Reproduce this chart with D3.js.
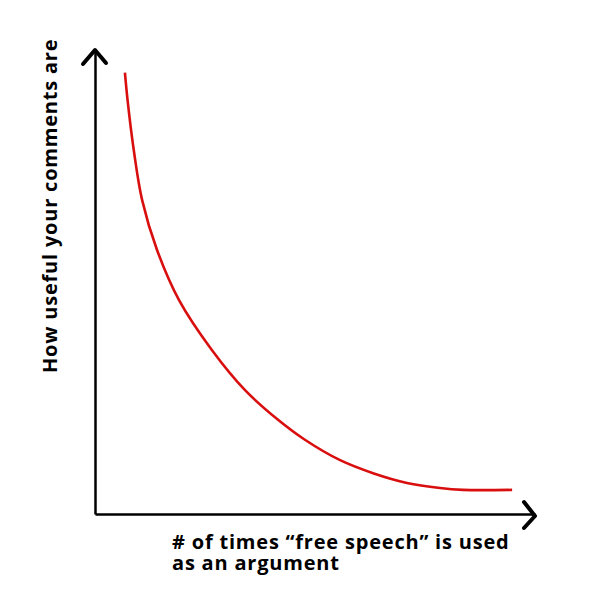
<!DOCTYPE html>
<html>
<head>
<meta charset="utf-8">
<script src="https://cdn.jsdelivr.net/npm/d3@7"></script>
<style>
  body { margin: 0; background: #fff; }
  svg { display: block; }
  .axis path.domain { stroke: #000; stroke-width: 2.5; }
  .lbl { font-family: 'Open Sans', Lato, sans-serif; font-weight: 700; fill: #000; letter-spacing: 0.8px; }
</style>
</head>
<body>
<div id="chart"></div>
<script>
// curve (arbitrary 0-10 units)
const timesUsed = [0.68, 0.74, 0.88, 1.07, 1.41, 1.91, 2.66, 3.41, 4.16, 4.77, 5.57, 6.32, 7.09, 7.84, 8.36, 9.48];
const usefulness = [9.51, 8.92, 7.85, 6.77, 5.69, 4.61, 3.53, 2.67, 2.03, 1.6, 1.16, 0.88, 0.67, 0.56, 0.52, 0.52];
const xLabel = ['# of times \u201cfree speech\u201d is used', 'as an argument'];
const yLabel = 'How useful your comments are';

const width = 600;
const height = 600;

const x = d3.scaleLinear().domain([0, 10]).range([95, 535]);
const y = d3.scaleLinear().domain([0, 10]).range([514, 50]);

const svg = d3.select('#chart')
  .append('svg')
  .attr('width', width)
  .attr('height', height);

svg.append('g')
  .attr('class', 'axis x')
  .attr('transform', `translate(0,${y(0)})`)
  .call(d3.axisBottom(x).tickValues([]).tickSizeOuter(0));

svg.append('g')
  .attr('class', 'axis y')
  .attr('transform', `translate(${x(0)},0)`)
  .call(d3.axisLeft(y).tickValues([]).tickSizeOuter(0));

// arrow heads
const [x0, x1] = x.range();
const yTop = y.range()[1];
const arrows = svg.append('g')
  .attr('fill', 'none')
  .attr('stroke', '#000')
  .attr('stroke-width', 4)
  .attr('stroke-linecap', 'round')
  .attr('stroke-linejoin', 'round');

arrows.append('path')
  .attr('d', `M${x0 - 12},${yTop + 14}L${x0},${yTop}L${x0 + 11},${yTop + 13}`);

arrows.append('path')
  .attr('d', `M${x1 - 11},${y(0) - 12}L${x1},${y(0) + 2}L${x1 - 11},${y(0) + 14}`);

const line = d3.line()
  .x((d, i) => x(timesUsed[i]))
  .y((d) => y(d))
  .curve(d3.curveCatmullRom.alpha(0.5));

svg.append('path')
  .datum(usefulness)
  .attr('fill', 'none')
  .attr('stroke', '#d90f0f')
  .attr('stroke-width', 2.6)
  .attr('d', line);

svg.selectAll('text.xlbl')
  .data(xLabel)
  .join('text')
  .attr('class', 'lbl xlbl')
  .attr('x', 172)
  .attr('y', (d, i) => 549 + i * 21)
  .style('font-size', '20px')
  .text((d) => d);

svg.append('text')
  .attr('class', 'lbl')
  .attr('transform', 'translate(57,373) rotate(-90)')
  .style('font-size', '20px')
  .text(yLabel);
</script>
</body>
</html>
